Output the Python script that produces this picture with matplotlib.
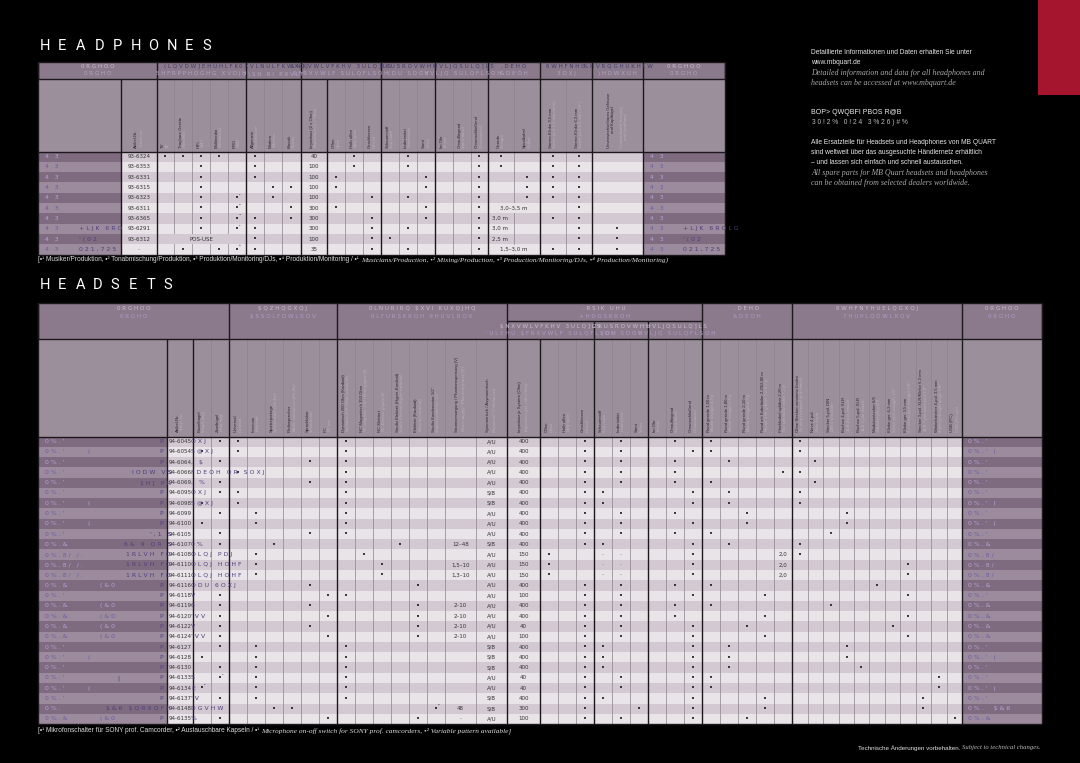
import matplotlib.pyplot as plt
from matplotlib.patches import Rectangle

plt.rcParams["text.parse_math"] = False

# ---------------- headphones: columns ----------------
hp_keys = ["art", "TV", "Trag", "HiFi", "MM", "PRO", "Allg", "Modern", "Klassik", "Imp",
           "Offen", "Halb", "Geschl", "Schaum", "Leder", "Samt", "ImOhr", "Ohrauf", "Ohrum",
           "Gerade", "Spiral", "K35", "K63", "Unverw"]
hp_de = ["Artikel-Nr.", "TV", "Tragbare Geräte", "HiFi", "Multimedia", "PRO", "Allgemein",
         "Modern", "Klassik", "Impedanz (2 x Ohm)", "Offen", "Halb offen", "Geschlossen",
         "Schaumstoff", "Lederimitat", "Samt", "Im Ohr", "Ohraufliegend", "Ohrumschließend",
         "Gerade", "Spiralkabel", "Stereo-Klinke 3,5 mm", "Stereo-Klinke 6,3 mm",
         "Unverwechselbares Gehäuse\nund Kopfbügel"]
hp_en = ["Article no.", "TV", "Portables", "HiFi", "Multimedia", "PRO", "General use",
         "Modern", "Classic", "Impedance (2 x Ohm)", "Open", "Half-open", "Closed",
         "Soft foam", "Leatherette", "Velvet", "In-ear", "Supra-aural", "Circumaural",
         "Straight", "Coiled", "Stereo jack 3.5 mm (mini)", "Stereo jack 6.3 mm (1/4\")",
         "Unmistakable housing\nand headband"]
hp_group_de = ["0RGHOO", "(LQVDW]EHUHLFK", "0XVLNULFKWXQJ", "$NXVWLVFKHV 3ULQ]LS", "2KUSROVWHU",
               "'HVLJQSULQ]LS", ".DEHO", "6WHFNHU", "%HVRQGHUKHLW", "0RGHOO"]
hp_group_en = ["0RGHO", "5HFRPPHQGHG XVDJH", "7\\SH RI PXVLF", "$FRXVWLF SULQFLSOH", "(DU SDGV",
               "'HVLJQ SULQFLSOH", "&DEOH", "3OXJ", ")HDWXUH", "0RGHO"]

# ---------------- headphones: rows ----------------
hp_name = ["4 3"] * 10
hp_name_mid = ["", "", "", "", "", "", "", "+LJK 6RO", "'(02", "021,725"]
hp_name_right_mid = ["", "", "", "", "", "", "", "+LJK 6ROLG", "'(02", "021,725"]
hp_article = ["93-6324", "93-6353", "93-6331", "93-6315", "93-6323", "93-6311", "93-6365",
              "93-6291", "93-6312", "-"]
hp_usage = [["TV", "Trag", "HiFi", "MM"], ["HiFi"], ["HiFi"], ["HiFi"], ["HiFi", "PRO¹"],
            ["HiFi", "PRO²"], ["HiFi", "PRO⁴"], ["HiFi", "PRO¹"], [], ["Trag", "MM", "PRO³"]]
hp_usage_text = ["", "", "", "", "", "", "", "", "POS-USE", ""]
hp_music = [["Allg"], ["Allg"], ["Allg"], ["Modern", "Klassik"], ["Modern"], ["Klassik"],
            ["Allg", "Klassik"], ["Allg"], ["Allg"], ["Allg"]]
hp_impedance = ["40", "100", "100", "100", "100", "300", "300", "300", "100", "35"]
hp_type = ["Halb", "Halb", "Offen", "Offen", "Geschl", "Offen", "Geschl", "Geschl", "Geschl", "Geschl"]
hp_pads = ["Leder", "Leder", "Samt", "Samt", "Leder", "Samt", "Samt", "Leder", "Schaum", "Leder"]
hp_fit = ["Ohrum"] * 10
hp_cable = ["Gerade", "Gerade", "Spiral", "Spiral", "Spiral", "", "", "", "", ""]
hp_cable_len = ["", "", "", "", "", "3,0–3,5 m", "3,0 m", "3,0 m", "2,5 m", "1,5–3,0 m"]
hp_plugs = [["K35", "K63"], ["K35", "K63"], ["K35", "K63"], ["K35", "K63"], ["K35", "K63"],
            ["K63"], ["K35", "K63"], ["K63"], ["K63"], ["K35", "K63"]]
hp_feature = [False] * 7 + [True] * 3

# ---------------- headsets: columns ----------------
hs_keys = ["art", "Einzel", "Zwei", "Univ", "Inter", "Sport", "Radio", "Sprach", "PC",
           "Dyn", "NCMag", "NCEl", "StudEl", "Elek", "StudKond", "Strom", "Symm",
           "Imp", "Offen", "Halb", "Geschl", "Schaum", "Leder", "Samt", "ImOhr", "Ohrauf", "Ohrum",
           "RG150", "RG180", "RG210", "RmK", "Flach",
           "Ohne", "Neve", "DIN", "XLR4", "XLR5", "Modular", "K63", "K35", "XLR3", "Winkel", "USB"]
hs_de = ["Artikel-Nr.", "Einzelbügel", "Zweibügel", "Universal", "Intercom", "Sportreportage",
         "Radiosprecher", "Sprachlabor", "PC",
         "Dynamisch 200 Ohm (Kardioid)", "NC Magnetisch 150 Ohm", "NC Elektret",
         "Studio Elektret (Hyper-Kardioid)", "Elektret (Kardioid)", "Studio Kondensator 1/2\"",
         "Stromversorgung / Phantomspeisung (V)", "Symmetrisch / Asymmetrisch",
         "Impedanz je System (Ohm)", "Offen", "Halb offen", "Geschlossen", "Schaumstoff",
         "Lederimitat", "Samt", "Im Ohr", "Ohraufliegend", "Ohrumschließend",
         "Rund gerade 1,50 m", "Rund gerade 1,80 m", "Rund gerade 2,10 m",
         "Rund mit Kabelteiler 2,20/2,80 m", "Flachkabel splitbar 2,20 m",
         "Ohne Stecker verzinnte Enden", "Neve 4-pol.", "Stecker 5-pol. DIN", "Buchse 4-pol. XLR",
         "Buchse 5-pol. XLR", "Modularstecker 6/6", "Klinke ger. 6,3 mm", "Klinke ger. 3,5 mm",
         "Stecker 3-pol. XLR/Klinke 6,3 mm", "Winkelstecker 4-pol. 3,5 mm", "USB (PC)"]
hs_en = ["Article no.", "Single muff", "Dual muff", "General", "Intercom", "Sportscaster (Dx 4tr)",
         "Radio announcer (Dx 4tr)", "Schoolroom", "PC use",
         "Dynamic 200 Ohms (cardioid)", "NC magnetic 150 Ohms (figure 8)", "NC Electret (figure 8)",
         "Studio Electret (hyper-cardioid)", "Electret (cardioid)", "Studio condenser 1/2\"",
         "Power supply / Phantom power (V)", "Balanced / Unbalanced",
         "Impedance per side (Ohm)", "Open", "Half-open", "Closed", "Soft foam", "Leatherette",
         "Velvet", "In-ear", "Supra-aural", "Circumaural",
         "Round straight 4.9 ft", "Round straight 5.9 ft", "Round straight 6.9 ft",
         "Round with splitter 7.2/9.2 ft", "Flat splittable cable 7.2 ft",
         "No plug (stripped and tinned)", "Neve 4-pin", "DIN 5-pin male", "XLR 4-pin female",
         "XLR 5-pin female", "Modular plug 6/6", "Stereo jack straight 1/4\"",
         "2 x stereo jack straight 1/8\"", "XLR 3-pin male/jack 1/4\"",
         "4-pin jack right angle 1/8\"", "USB (PC use)"]
hs_group_de = ["0RGHOO", "$QZHQGXQJ", "0LNURIRQ $XVI KUXQJHQ", ".RSIK UHU", ".DEHO",
               "6WHFNYHUELQGXQJ", "0RGHOO"]
hs_group_en = ["0RGHO", "$SSOLFDWLRQV", "0LFURSKRQH 9HUVLRQV", "+HDGSKRQH", "&DEOH",
               "7HUPLQDWLRQV", "0RGHO"]
hs_sub_de = ["$NXVWLVFKHV 3ULQ]LS", "2KUSROVWHU", "'HVLJQSULQ]LS"]
hs_sub_en = ["'ULYHU $FRXVWLF SULQFLSOH", "(DU SDGV", "'HVLJQ SULQFLSOH"]

# ---------------- headsets: rows ----------------
hs_name = ["0%.'", "0%.'", "0%.'", "0%.'", "0%.'", "0%.'", "0%.'", "0%.'", "0%.'", "0%.'",
           "0%.&", "0%.8/ /.", "0%.8/ /.", "0%.8/ /.", "0%.&", "0%.'", "0%.&", "0%.&", "0%.&",
           "0%.&", "0%.'", "0%.'", "0%.'", "0%.'", "0%.'", "0%.'", "0%.", "0%.&"]
hs_name_mid = ["", "(", "", "IODW VS", "1H[ PR", "", "(", "", "(", "',1 S", "6& 9 QR S",
               "1RLVH FD", "1RLVH FD", "1RLVH FD", "(&0", "", "(&0", "(&0", "(&0", "(&0",
               "", "(", "", "|", "(", "", "$&6 $QRXQFH", "(&0"]
hs_name_p = ["P", "P", "P", "", "", "P", "P", "P", "P", "", "", "", "", "", "P", "P", "P", "P",
             "P", "P", "P", "P", "P", "P", "P", "P", "", "P"]
hs_overflow = ["OXJ", "S@XJ", ", $", "FDEOH QR SOXJ", ", %", "OXJ", "S@XJ", "", "", "", "0%",
               "OLQJ PDJ", "OLQJ HOHF", "OLQJ HOHF", "ODU 6OXJ", "V", "6", "'VV", "V", "'VV",
               "", "", "", "S", "E", "'V", "DGVHW", "%"]
hs_name_right = ["0%.'", "0%.' (", "0%.'", "0%.'", "0%.'", "0%.'", "0%.' (", "0%.'", "0%.' (",
                 "0%.'", "0%.&", "0%.8/", "0%.8/", "0%.8/", "0%.&", "0%.'", "0%.&", "0%.&",
                 "0%.&", "0%.&", "0%.'", "0%.' (", "0%.'", "0%.'", "0%.' (", "0%.'",
                 "0%.  $&6", "0%.&"]
hs_article = ["94-6045", "94-6054", "94-6064", "94-6066", "94-6069", "94-6095", "94-6098",
              "94-6099", "94-6100", "94-6105", "94-6107", "94-6108", "94-6110", "94-6111",
              "94-6116", "94-6118", "94-6119", "94-6120", "94-6122", "94-6124", "94-6127",
              "94-6128", "94-6130", "94-6133", "94-6134", "94-6137", "94-6148", "94-6135"]
hs_muff = ["Zwei", "Einzel", "Zwei", "", "Zwei", "Zwei", "Einzel", "Zwei", "Einzel", "Zwei",
           "Zwei", "", "", "", "", "Zwei", "Zwei", "Zwei", "Zwei", "Zwei", "Zwei", "Einzel",
           "Zwei", "Zwei¹", "Einzel¹", "Zwei", "", "Zwei"]
hs_use = [["Univ"], ["Univ"], ["Sprach"], ["Univ"], ["Sprach"], ["Univ"], ["Univ"], ["Inter"],
          ["Inter"], ["Sprach"], ["Sport"], ["Inter"], ["Inter"], ["Inter"], ["Sprach"], ["PC"],
          ["Sprach"], ["PC"], ["Sprach"], ["PC"], ["Inter"], ["Inter"], ["Inter"], ["Inter"],
          ["Inter"], ["Inter"], ["Sport", "Radio"], ["PC"]]
hs_mic = ["Dyn"] * 10 + ["StudEl", "NCMag", "NCEl", "NCEl", "Elek", "Dyn", "Elek", "Elek",
                         "Elek", "Elek", "Dyn", "Dyn", "Dyn", "Dyn", "Dyn", "Dyn", "StudKond²", "Elek"]
hs_power = ["", "", "", "", "", "", "", "", "", "", "12–48", "", "1,5–10", "1,3–10", "", "",
            "2–10", "2–10", "2–10", "2–10", "", "", "", "", "", "", "48", "-"]
hs_balance = ["A/U"] * 5 + ["S/B"] * 2 + ["A/U"] * 3 + ["S/B"] + ["A/U"] * 9 + ["S/B"] * 3 + \
             ["A/U"] * 2 + ["S/B"] * 2 + ["A/U"]
hs_impedance = ["400"] * 11 + ["150"] * 3 + ["400", "100", "400", "400", "40", "100"] + \
               ["400", "400", "400", "40", "40", "400", "300", "100"]
hs_type = ["Geschl"] * 11 + ["Offen"] * 3 + ["Geschl"] * 14
hs_pads = ["Leder"] * 5 + ["Schaum"] * 2 + ["Leder"] * 3 + ["Schaum"] + ["-"] * 3 + \
          ["Leder"] * 6 + ["Schaum"] * 3 + ["Leder"] * 2 + ["Schaum", "Samt", "Leder"]
hs_fit = ["Ohrauf", "Ohrum", "Ohrauf", "Ohrauf", "Ohrauf", "Ohrum", "Ohrum", "Ohrauf", "Ohrum",
          "Ohrauf", "Ohrum", "Ohrum", "Ohrum", "Ohrum", "Ohrauf", "Ohrum", "Ohrauf", "Ohrauf",
          "Ohrum", "Ohrum"] + ["Ohrum"] * 8
hs_cable = ["RG150", "RG150", "RG180", "Flach", "RG150", "RG180", "RG180", "RG210", "RG210",
            "RG150", "RG180", "Flach 2,0", "Flach 2,0", "Flach 2,0", "RG150", "RmK", "RG150",
            "RmK", "RG210", "RmK", "RG180", "RG180", "RG180", "RG150", "RG150", "RmK", "RmK", "RG210"]
hs_plug = [["Ohne"], ["Ohne"], ["Neve"], ["Ohne"], ["Neve"], ["Ohne"], ["Ohne"], ["XLR4"],
           ["XLR4"], ["DIN"], ["Ohne"], ["Ohne"], ["K35"], ["K35"], ["Modular"], ["K35"], ["DIN"],
           ["K35"], ["K63"], ["K35"], ["XLR4"], ["XLR4"], ["XLR5"], ["Winkel"], ["Winkel"],
           ["XLR3"], ["XLR3"], ["USB"]]

# ---------------- side texts ----------------
info_de = ["Detaillierte Informationen und Daten erhalten Sie unter", "www.mbquart.de"]
info_en = ["Detailed information and data for all headphones and",
           "headsets can be accessed at www.mbquart.de"]
spare_title = ["BOP> QWQBFI PBOS R@B", "3 0 ! 2 %   0 ! 2 4   3 % 2 6 ) # %"]
spare_de = ["Alle Ersatzteile für Headsets und Headphones von MB QUART",
            "sind weltweit über das ausgesuchte Händlernetz erhältlich",
            "– und lassen sich einfach und schnell austauschen."]
spare_en = ["All spare parts for MB Quart headsets and headphones",
            "can be obtained from selected dealers worldwide."]
hp_note = ["[•¹ Musiker/Produktion, •² Tonabmischung/Produktion, •³ Produktion/Monitoring/DJs, "
           "•⁴ Produktion/Monitoring / •¹ ",
           "Musicians/Production, •² Mixing/Production, •³ Production/Monitoring/DJs, "
           "•⁴ Production/Monitoring)"]
hs_note = ["[•¹ Mikrofonschalter für SONY prof. Camcorder, •² Austauschbare Kapseln / •¹ ",
           "Microphone on-off switch for SONY prof. camcorders, •² Variable pattern available]"]
bottom_note = ["Technische Änderungen vorbehalten. ", "Subject to technical changes."]

# ---------------- style ----------------
HDR1 = "#8a7a8b"
HDR2 = "#9b8f9c"
NAME_BG = ["#7e6b80", "#9b8b9d"]
CELL_BG = ["#d3c9d3", "#e8e4e8"]
THICK = "#1c181c"
THIN = "#8c818c"
DE_C = "#2e242e"
EN_C = "#bcb0bc"
NAME_TXT = ["#b4a4da", "#6c5ca6"]
NAME_MID = "#4f3f7e"
SANS = ["Liberation Sans", "DejaVu Sans"]
SERIF = ["Liberation Serif", "DejaVu Serif"]
SUPS = "¹²³⁴"

W, H = 1080, 763
fig = plt.figure(figsize=(W / 100, H / 100), dpi=100)
fig.patch.set_facecolor("black")
ax = fig.add_axes([0, 0, 1, 1])
ax.set_xlim(0, W)
ax.set_ylim(H, 0)
ax.axis("off")
renderer = fig.canvas.get_renderer()


def rect(x0, x1, y0, y1, fc, z=1):
    ax.add_patch(Rectangle((x0, y0), x1 - x0, y1 - y0, facecolor=fc, edgecolor="none",
                           linewidth=0, zorder=z))


def vline(x, y0, y1, color, lw, z=3):
    ax.plot([x, x], [y0, y1], color=color, lw=lw, zorder=z, solid_capstyle="butt")


def hline(y, x0, x1, color, lw, z=3):
    ax.plot([x0, x1], [y, y], color=color, lw=lw, zorder=z, solid_capstyle="butt")


def txt(x, y, s, size=4.0, color="#222222", ha="left", va="center", family=None,
        style="normal", rot=0, z=6, weight="normal"):
    return ax.text(x, y, s, fontsize=size, color=color, ha=ha, va=va,
                   family=family or ["DejaVu Sans"], style=style, rotation=rot, zorder=z,
                   weight=weight, linespacing=1.05)


def spaced(s):
    return " ".join(s)


def chain(x, y, parts):
    for s, kw in parts:
        t = txt(x, y, s, **kw)
        x = t.get_window_extent(renderer=renderer).x1


def mark(token):
    key = token.rstrip(SUPS)
    return key, "•" + token[len(key):]


def col_labels(edges, de, en, y_bottom):
    for i in range(len(de)):
        x0, x1 = edges[i], edges[i + 1]
        cx = (x0 + x1) / 2
        off = 2.3 if x1 - x0 < 30 else (3.5 if "\n" not in de[i] else 6.5)
        txt(cx - off, y_bottom, de[i], size=3.1, color=DE_C, ha="center", va="bottom",
            rot=90, family=SANS)
        txt(cx + off, y_bottom, en[i], size=3.3, color=EN_C, ha="center", va="bottom",
            rot=90, family=SERIF, style="italic")


def cell_text(edges, keys, marks, y):
    for k, s in marks.items():
        i = keys.index(k)
        cx = (edges[i] + edges[i + 1]) / 2
        if s.startswith("•"):
            txt(cx, y + 0.3, "•", size=5, color="#111111", ha="center")
            if len(s) > 1:
                txt(cx + 1.6, y - 2.2, s[1:], size=3.2, color="#111111", ha="left")
        else:
            txt(cx, y, s, size=4.0, color="#333333" if s != "-" else "#777777", ha="center")


# ---------------- titles ----------------
for i, ch in enumerate("HEADPHONES"):
    txt(40 + 18.1 * i, 46, ch, size=10.5, color="white", family=["Roboto", "DejaVu Sans"])
for i, ch in enumerate("HEADSETS"):
    txt(40 + 17.7 * i, 285, ch, size=10.5, color="white", family=["Roboto", "DejaVu Sans"])

# ---------------- HEADPHONES table ----------------
hp_x0, hp_x1 = 38, 725
hp_edges = [121, 157, 174, 192, 210, 228, 246, 264, 282, 301, 327, 345, 363, 381, 399, 417,
            435, 453, 471, 488, 514, 540, 566, 592, 643]
hp_thick = [121, 157, 246, 301, 327, 381, 435, 488, 540, 592, 643]
hp_group_edges = [38, 157, 246, 301, 381, 435, 488, 540, 592, 643, 725]
hp_y0, hp_h1, hp_h2, hp_rh = 62, 79, 151.5, 10.3
hp_bot = hp_h2 + hp_rh * len(hp_article)

rect(hp_x0, hp_x1, hp_y0, hp_h1, HDR1)
rect(hp_x0, hp_x1, hp_h1, hp_h2, HDR2)
for r in range(len(hp_article)):
    y0 = hp_h2 + r * hp_rh
    rect(hp_x0, hp_edges[0], y0, y0 + hp_rh, NAME_BG[r % 2])
    rect(hp_edges[0], hp_edges[-1], y0, y0 + hp_rh, CELL_BG[r % 2])
    rect(hp_edges[-1], hp_x1, y0, y0 + hp_rh, NAME_BG[r % 2])

for x in hp_edges:
    if x not in hp_thick:
        vline(x, hp_h1, hp_bot, THIN, 0.5)
for x in hp_thick:
    vline(x, hp_h1, hp_bot, THICK, 1.0, z=4)
for x in hp_group_edges:
    vline(x, hp_y0, hp_h1, THICK, 1.0, z=4)
vline(hp_x0, hp_y0, hp_bot, THICK, 1.0, z=4)
vline(hp_x1, hp_y0, hp_bot, THICK, 1.0, z=4)
for y in (hp_y0, hp_h1, hp_h2, hp_bot):
    hline(y, hp_x0, hp_x1, THICK, 1.0, z=4)

for g in range(len(hp_group_de)):
    cx = (hp_group_edges[g] + hp_group_edges[g + 1]) / 2
    c1 = "#c9bccf" if g in (0, len(hp_group_de) - 1) else "#443d69"
    txt(cx, 66.5, spaced(hp_group_de[g]), size=4.1, color=c1, ha="center")
    txt(cx, 73.5, spaced(hp_group_en[g]), size=4.1, color="#b3a3c6", ha="center")

col_labels(hp_edges, hp_de, hp_en, hp_h2 - 4)

for r in range(len(hp_article)):
    y0 = hp_h2 + r * hp_rh
    yc = y0 + hp_rh / 2
    marks = {"art": hp_article[r], "Imp": hp_impedance[r]}
    tokens = hp_usage[r] + hp_music[r] + [hp_type[r], hp_pads[r], hp_fit[r]] + hp_plugs[r]
    if hp_cable[r]:
        tokens.append(hp_cable[r])
    if hp_feature[r]:
        tokens.append("Unverw")
    for tk in tokens:
        k, s = mark(tk)
        marks[k] = s
    cell_text(hp_edges, hp_keys, marks, yc)
    if hp_usage_text[r]:
        rect(hp_edges[1] + 0.5, hp_edges[6] - 0.5, y0 + 0.3, y0 + hp_rh - 0.3, CELL_BG[r % 2], z=3.5)
        txt((hp_edges[1] + hp_edges[6]) / 2, yc, hp_usage_text[r], size=4.0, color="#333333",
            ha="center")
    if hp_cable_len[r]:
        i = hp_keys.index("Gerade")
        if "–" in hp_cable_len[r]:
            rect(hp_edges[i] + 0.5, hp_edges[i + 2] - 0.5, y0 + 0.3, y0 + hp_rh - 0.3,
                 CELL_BG[r % 2], z=3.5)
            txt((hp_edges[i] + hp_edges[i + 2]) / 2, yc, hp_cable_len[r], size=4.0,
                color="#333333", ha="center")
        else:
            txt(hp_edges[i] + 4, yc, hp_cable_len[r], size=4.0, color="#333333")
    txt(45, yc, spaced(hp_name[r]), size=4.4, color=NAME_TXT[r % 2])
    if hp_name_mid[r]:
        txt(79, yc, spaced(hp_name_mid[r]), size=4.4, color=NAME_MID)
    txt(650, yc, spaced(hp_name[r]), size=4.4, color=NAME_TXT[r % 2])
    if hp_name_right_mid[r]:
        txt(683, yc, spaced(hp_name_right_mid[r]), size=4.4, color=NAME_MID)

chain(38, 259.5, [(hp_note[0], dict(size=4.7, color="#dddddd", family=SANS)),
                  (hp_note[1], dict(size=5.3, color="#dddddd", family=SERIF, style="italic"))])

# ---------------- HEADSETS table ----------------
hs_x0, hs_x1 = 38, 1042
hs_edges = [167, 193, 211, 229, 247, 265, 283, 301, 319, 337, 355, 373, 391, 409, 427, 445,
            476, 507, 540, 558, 576, 594, 612, 630, 648, 666, 684, 702, 720, 738, 756, 774,
            792, 808, 823, 839, 854, 869, 885, 900, 916, 931, 947, 962]
hs_thick = [167, 193, 229, 337, 507, 540, 594, 648, 702, 792, 962]
hs_group_edges = [38, 229, 337, 507, 702, 792, 962, 1042]
hs_sub_edges = [507, 594, 648, 702]
hs_y0, hs_hsub, hs_h1, hs_h2, hs_rh = 303, 321, 339, 436.5, 10.27
hs_bot = hs_h2 + hs_rh * len(hs_article)

rect(hs_x0, hs_x1, hs_y0, hs_h1, HDR1)
rect(hs_x0, hs_x1, hs_h1, hs_h2, HDR2)
for r in range(len(hs_article)):
    y0 = hs_h2 + r * hs_rh
    rect(hs_x0, hs_edges[0], y0, y0 + hs_rh, NAME_BG[r % 2])
    rect(hs_edges[0], hs_edges[-1], y0, y0 + hs_rh, CELL_BG[r % 2])
    rect(hs_edges[-1], hs_x1, y0, y0 + hs_rh, NAME_BG[r % 2])

for x in hs_edges:
    if x not in hs_thick:
        vline(x, hs_h1, hs_bot, THIN, 0.5)
for x in hs_thick:
    vline(x, hs_h1, hs_bot, THICK, 1.0, z=4)
for x in hs_group_edges:
    vline(x, hs_y0, hs_h1, THICK, 1.0, z=4)
for x in hs_sub_edges[1:-1]:
    vline(x, hs_hsub, hs_h1, THICK, 1.0, z=4)
hline(hs_hsub, hs_sub_edges[0], hs_sub_edges[-1], THICK, 1.0, z=4)
vline(hs_x0, hs_y0, hs_bot, THICK, 1.0, z=4)
vline(hs_x1, hs_y0, hs_bot, THICK, 1.0, z=4)
for y in (hs_y0, hs_h1, hs_h2, hs_bot):
    hline(y, hs_x0, hs_x1, THICK, 1.0, z=4)

for g in range(len(hs_group_de)):
    cx = (hs_group_edges[g] + hs_group_edges[g + 1]) / 2
    txt(cx, 308.5, spaced(hs_group_de[g]), size=4.1, color="#c9bccf", ha="center")
    txt(cx, 316.5, spaced(hs_group_en[g]), size=4.1, color="#ad9cc6", ha="center")
for g in range(len(hs_sub_de)):
    cx = (hs_sub_edges[g] + hs_sub_edges[g + 1]) / 2
    txt(cx, 326.5, spaced(hs_sub_de[g]), size=4.1, color="#c9bccf", ha="center")
    txt(cx, 334, spaced(hs_sub_en[g]), size=4.1, color="#ad9cc6", ha="center")

col_labels(hs_edges, hs_de, hs_en, hs_h2 - 4)

for r in range(len(hs_article)):
    y0 = hs_h2 + r * hs_rh
    yc = y0 + hs_rh / 2
    marks = {"art": hs_article[r], "Symm": hs_balance[r], "Imp": hs_impedance[r]}
    if hs_power[r]:
        marks["Strom"] = hs_power[r]
    tokens = hs_use[r] + [hs_mic[r], hs_type[r], hs_fit[r]] + hs_plug[r]
    if hs_muff[r]:
        tokens.append(hs_muff[r])
    if hs_pads[r] == "-":
        marks["Schaum"] = "-"
        marks["Leder"] = "-"
    else:
        tokens.append(hs_pads[r])
    cab = hs_cable[r].split()
    if len(cab) == 2:
        marks[cab[0]] = cab[1]
    else:
        tokens.append(cab[0])
    for tk in tokens:
        k, s = mark(tk)
        marks[k] = s
    cell_text(hs_edges, hs_keys, marks, yc)

    ntc = NAME_TXT[r % 2]
    txt(45, yc, spaced(hs_name[r]), size=4.4, color=ntc)
    mid = hs_name_mid[r]
    if mid:
        if mid == "(":
            txt(88, yc, mid, size=4.4, color=ntc)
        elif mid == "(&0":
            txt(100, yc, spaced(mid), size=4.4, color=ntc)
        elif mid == "|":
            txt(117, yc, mid, size=4.4, color=NAME_MID)
        else:
            txt(171, yc, spaced(mid), size=4.4, color=NAME_MID, ha="right", z=7)
    if hs_name_p[r]:
        txt(163, yc, hs_name_p[r], size=4.4, color=NAME_MID, ha="right")
    if hs_overflow[r]:
        txt(191, yc, spaced(hs_overflow[r]), size=4.4, color=NAME_MID, z=7)
    txt(968, yc, spaced(hs_name_right[r]), size=4.4, color=ntc)

chain(38, 730.5, [(hs_note[0], dict(size=4.7, color="#dddddd", family=SANS)),
                  (hs_note[1], dict(size=5.3, color="#dddddd", family=SERIF, style="italic"))])

# ---------------- right column texts ----------------
rect(1038, 1080, 0, 95, "#a5152d")
for i, s in enumerate(info_de):
    txt(811, 53 + 10 * i, s, size=4.8, color="#e6e6e6", family=SANS)
for i, s in enumerate(info_en):
    txt(811, 73 + 10 * i, s, size=5.7, color="#a9a9a9", family=SERIF, style="italic")
txt(811, 112.5, spare_title[0], size=5.0, color="#f0f0f0", family=SANS)
txt(812, 123, spare_title[1], size=4.8, color="#bdbdbd", family=SANS)
for i, s in enumerate(spare_de):
    txt(811, 143 + 10 * i, s, size=4.8, color="#e6e6e6", family=SANS)
for i, s in enumerate(spare_en):
    txt(811, 173 + 10 * i, s, size=5.7, color="#a9a9a9", family=SERIF, style="italic")

t_en = txt(1041, 748, bottom_note[1], size=4.8, color="#bdbdbd", family=SERIF, style="italic",
           ha="right")
x_left = t_en.get_window_extent(renderer=renderer).x0
txt(x_left, 748, bottom_note[0], size=4.5, color="#e0e0e0", family=SANS, ha="right")

fig.savefig("out.png", dpi=100, facecolor="black")
